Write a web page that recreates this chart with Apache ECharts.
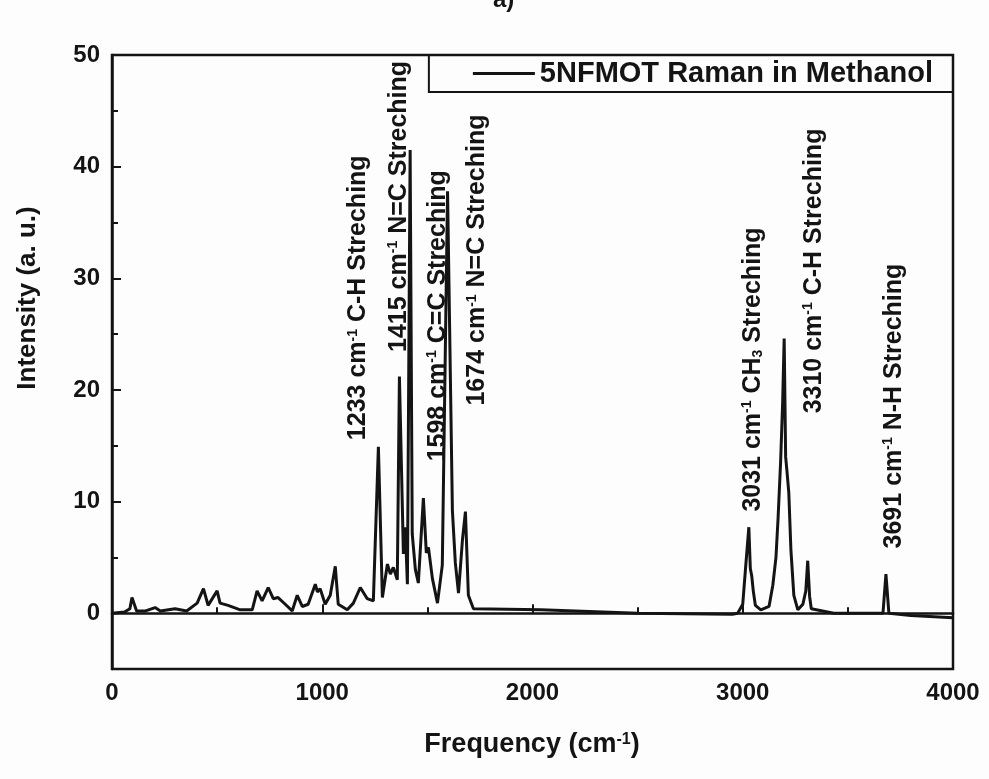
<!DOCTYPE html>
<html>
<head>
<meta charset="utf-8">
<title>5NFMOT Raman in Methanol</title>
<script src="https://cdn.jsdelivr.net/npm/echarts@6/dist/echarts.min.js"></script>
<style>
  html, body { margin: 0; padding: 0; background: #fdfdfd; }
  #ramanSpectrum { width: 989px; height: 779px; }
</style>
</head>
<body>
<div id="ramanSpectrum"></div>
<script>
// spectrum (cm-1, a. u.)
var freq = [
  0, 60, 85, 95, 117, 160, 205, 230, 300, 355, 405, 435, 457, 500, 514, 552,
  610, 667, 690, 714, 743, 767, 790, 824, 857, 881, 905, 933, 967, 977, 990,
  1014, 1038, 1062, 1076, 1119, 1148, 1181, 1214, 1243, 1267, 1286, 1310, 1324,
  1338, 1357, 1367, 1386, 1395, 1405, 1418, 1428, 1443, 1457, 1481, 1495, 1505,
  1524, 1548, 1571, 1596, 1619, 1633, 1648, 1667, 1681, 1695, 1719, 2040, 2500,
  2950, 2976, 3000, 3014, 3029, 3036, 3043, 3050, 3060, 3086, 3125, 3143, 3158,
  3168, 3180, 3190, 3197, 3204, 3210, 3219, 3229, 3243, 3262, 3286, 3300, 3309,
  3318, 3326, 3433, 3667, 3681, 3695, 3800, 4000
];
var intensity = [
  0.0, 0.1, 0.4, 1.4, 0.2, 0.2, 0.5, 0.2, 0.4, 0.2, 0.9, 2.2, 0.7, 2.0, 0.9, 0.7,
  0.3, 0.3, 2.0, 1.1, 2.3, 1.3, 1.4, 0.8, 0.2, 1.6, 0.6, 0.8, 2.6, 1.9, 2.2,
  0.8, 1.6, 4.2, 0.8, 0.3, 0.9, 2.3, 1.3, 1.1, 14.9, 1.4, 4.4, 3.5,
  4.1, 3.0, 21.2, 5.3, 7.7, 2.6, 41.5, 7.1, 3.9, 2.7, 10.3, 5.4, 5.9,
  3.1, 0.9, 4.3, 37.8, 9.2, 4.5, 1.8, 6.6, 9.1, 1.6, 0.4, 0.3, 0.0,
  -0.1, 0.0, 0.8, 4.2, 7.7, 4.0, 3.3, 2.0, 0.7, 0.3, 0.6, 2.5, 5.0,
  8.5, 13.5, 19.0, 24.6, 14.0, 12.8, 10.8, 5.7, 1.6, 0.3, 0.8, 2.0, 4.7,
  1.5, 0.4, 0.0, 0.0, 3.5, 0.0, -0.2, -0.4
];

var xTicks = [0, 1000, 2000, 3000, 4000];
var yTicks = [0, 10, 20, 30, 40, 50];
var yMinorTicks = [5, 15, 25, 35, 45];

// band assignments, written upwards from (bandFreq, bandBase)
var bandLabels = [
  '1233 cm{sup|-1} C-H Streching',
  '1415 cm{sup|-1} N=C Streching',
  '1598 cm{sup|-1} C=C Streching',
  '1674 cm{sup|-1} N=C Streching',
  '3031 cm{sup|-1} CH{sub|3} Streching',
  '3310 cm{sup|-1} C-H Streching',
  '3691 cm{sup|-1} N-H Streching'
];
var bandFreq = [1171, 1364, 1550, 1738, 3048, 3338, 3719];
var bandBase = [15.5, 23.4, 13.6, 18.6, 9.1, 17.9, 5.8];

var seriesName = '5NFMOT Raman in Methanol';

(function () {

  function Page() {
    var _this = this;
    _this.init();
  };

  Page.prototype = {

    init: function () {
      var _this = this
      _this.initChart()
    },

    initChart: function () {
      var font = '"Liberation Sans", Arial, sans-serif';
      var ink = '#141414';
      var myChart = echarts.init(document.getElementById('ramanSpectrum'));

      var points = freq.map(function (f, i) { return [f, intensity[i]]; });

      var option = {
        animation: false,
        backgroundColor: '#fdfdfd',
        grid: {
          left: 112,
          right: 36,
          top: 55,
          bottom: 110,
          show: true,
          borderColor: ink,
          borderWidth: 2.5,
          backgroundColor: 'transparent'
        },
        legend: {
          data: [seriesName],
          right: 36,
          top: 55,
          selectedMode: false,
          icon: 'rect',
          itemWidth: 62,
          itemHeight: 3,
          padding: [4, 20, 4, 44],
          borderColor: ink,
          borderWidth: 2,
          textStyle: {
            fontFamily: font,
            fontSize: 29,
            fontWeight: 'bold',
            color: ink
          }
        },
        xAxis: {
          type: 'value',
          min: xTicks[0],
          max: xTicks[xTicks.length - 1],
          interval: 1000,
          axisLine: { lineStyle: { color: ink, width: 2.5 } },
          axisTick: { inside: true, length: 9, lineStyle: { color: ink, width: 2 } },
          minorTick: { show: true, splitNumber: 2, length: 6, lineStyle: { color: ink, width: 2 } },
          splitLine: { show: false },
          axisLabel: {
            margin: 12,
            color: ink,
            fontFamily: font,
            fontSize: 24,
            fontWeight: 'bold',
            formatter: function (v) { return String(v); }
          }
        },
        yAxis: [
          {
            type: 'value',
            min: -5,
            max: 50,
            axisLine: { lineStyle: { color: ink, width: 2.5 } },
            axisTick: { inside: true, length: 9, customValues: yTicks, lineStyle: { color: ink, width: 2 } },
            splitLine: { show: false },
            axisLabel: {
              customValues: yTicks,
              margin: 12,
              color: ink,
              fontFamily: font,
              fontSize: 24,
              fontWeight: 'bold'
            }
          },
          {
            type: 'value',
            position: 'left',
            min: -5,
            max: 50,
            axisLine: { show: false },
            axisTick: { inside: true, length: 6, customValues: yMinorTicks, lineStyle: { color: ink, width: 2 } },
            axisLabel: { show: false },
            splitLine: { show: false }
          }
        ],
        series: [
          {
            name: seriesName,
            type: 'line',
            data: points,
            showSymbol: false,
            symbol: 'none',
            lineStyle: { color: ink, width: 3 },
            itemStyle: { color: ink }
          }
        ],
        graphic: [
          {
            type: 'text',
            left: 493,
            top: -12,
            style: { text: 'a)', fill: ink, font: 'bold 24px ' + font }
          },
          {
            type: 'text',
            x: 28,
            y: 298,
            rotation: Math.PI / 2,
            style: {
              text: 'Intensity (a. u.)',
              fill: ink,
              font: 'bold 26px ' + font,
              align: 'center',
              verticalAlign: 'middle'
            }
          },
          {
            type: 'text',
            x: 532,
            y: 745,
            style: {
              text: 'Frequency (cm{sup|-1})',
              fill: ink,
              fontFamily: font,
              fontSize: 27,
              fontWeight: 'bold',
              align: 'center',
              verticalAlign: 'middle',
              rich: {
                sup: { fontFamily: font, fontSize: 16, fontWeight: 'bold', fill: ink, verticalAlign: 'top' }
              }
            }
          }
        ]
      };

      myChart.setOption(option);

      // band labels go where the axes put their data position
      var bands = bandLabels.map(function (txt, i) {
        var p = myChart.convertToPixel({ gridIndex: 0 }, [bandFreq[i], bandBase[i]]);
        return {
          type: 'text',
          x: p[0],
          y: p[1],
          rotation: Math.PI / 2,
          style: {
            text: txt,
            fill: ink,
            fontFamily: font,
            fontSize: 25,
            fontWeight: 'bold',
            align: 'left',
            verticalAlign: 'middle',
            rich: {
              sup: { fontFamily: font, fontSize: 14, fontWeight: 'bold', fill: ink, verticalAlign: 'top' },
              sub: { fontFamily: font, fontSize: 14, fontWeight: 'bold', fill: ink, verticalAlign: 'bottom' }
            }
          }
        };
      });
      myChart.setOption({ graphic: option.graphic.concat(bands) });
    }
  }

  var page = new Page();
})();
</script>
</body>
</html>
